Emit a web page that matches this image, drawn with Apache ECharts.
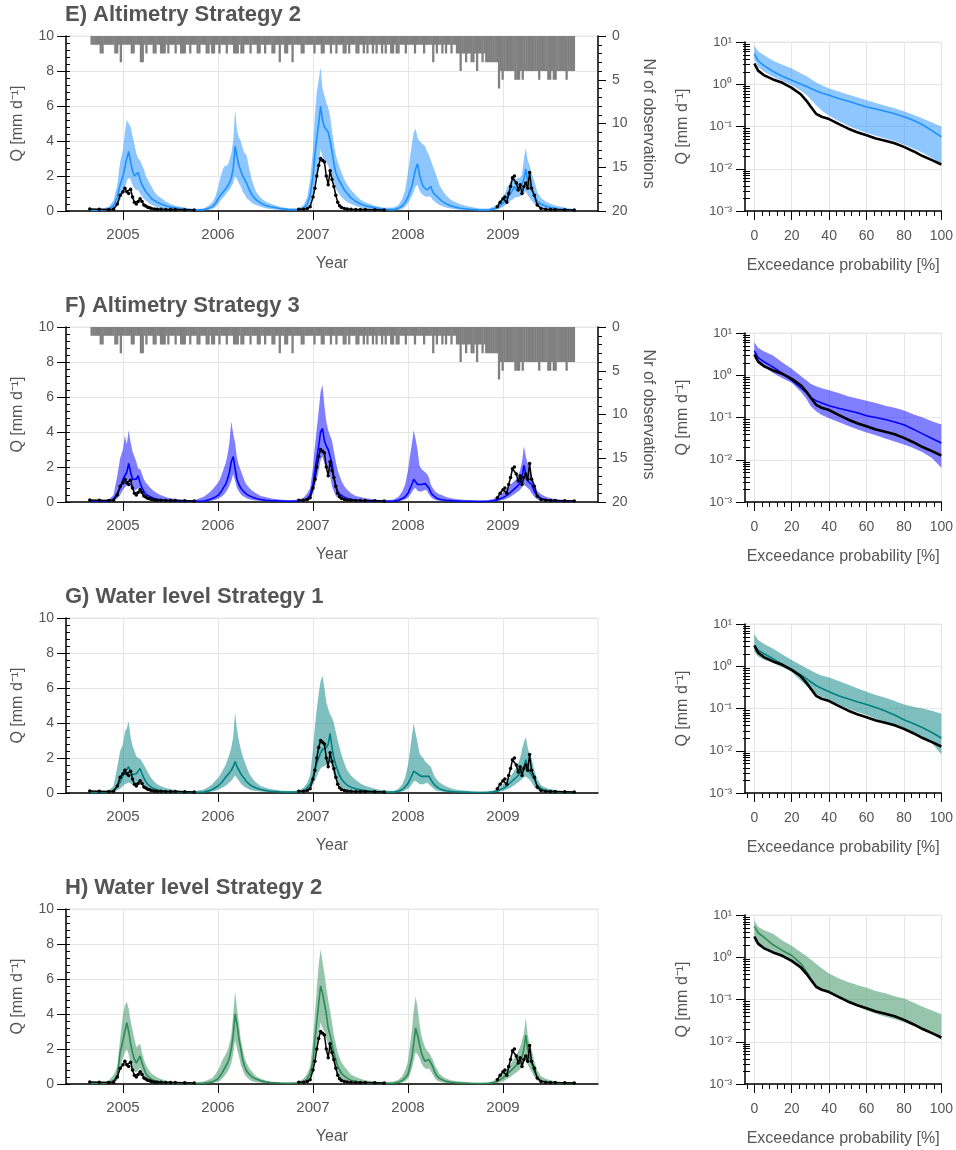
<!DOCTYPE html>
<html>
<head>
<meta charset="utf-8">
<script src="https://cdn.jsdelivr.net/npm/echarts@6/dist/echarts.min.js"></script>
<style>
  html, body { margin: 0; padding: 0; background: #fff; }
  #chart { width: 956px; height: 1150px; }
</style>
</head>
<body>
<div id="chart"></div>
<script>
// ---- time axis of the hydrographs (decimal years) ----
const t = [
  2004.65, 2004.75,
  2004.85, 2004.90, 2004.94, 2004.97, 2005.00, 2005.02, 2005.04, 2005.06, 2005.08, 2005.10, 2005.12, 2005.14, 2005.16, 2005.18, 2005.20, 2005.22, 2005.24, 2005.26, 2005.28, 2005.30, 2005.33, 2005.36, 2005.40, 2005.45, 2005.50, 2005.55, 2005.65, 2005.75,
  2005.85, 2005.90, 2005.94, 2005.97, 2006.00, 2006.02, 2006.04, 2006.06, 2006.08, 2006.10, 2006.12, 2006.14, 2006.16, 2006.18, 2006.20, 2006.22, 2006.24, 2006.26, 2006.28, 2006.30, 2006.33, 2006.36, 2006.40, 2006.45, 2006.50, 2006.55, 2006.65, 2006.75,
  2006.85, 2006.90, 2006.94, 2006.97, 2007.00, 2007.02, 2007.04, 2007.06, 2007.08, 2007.10, 2007.12, 2007.14, 2007.16, 2007.18, 2007.20, 2007.22, 2007.24, 2007.26, 2007.28, 2007.30, 2007.33, 2007.36, 2007.40, 2007.45, 2007.50, 2007.55, 2007.65, 2007.75,
  2007.85, 2007.90, 2007.94, 2007.97, 2008.00, 2008.02, 2008.04, 2008.06, 2008.08, 2008.10, 2008.12, 2008.14, 2008.16, 2008.18, 2008.20, 2008.22, 2008.24, 2008.26, 2008.28, 2008.30, 2008.33, 2008.36, 2008.40, 2008.45, 2008.50, 2008.55, 2008.65, 2008.75,
  2008.85, 2008.90, 2008.94, 2008.97, 2009.00, 2009.02, 2009.04, 2009.06, 2009.08, 2009.10, 2009.12, 2009.14, 2009.16, 2009.18, 2009.20, 2009.22, 2009.24, 2009.26, 2009.28, 2009.30, 2009.33, 2009.36, 2009.40, 2009.45, 2009.50, 2009.55, 2009.65, 2009.75
];

// ---- observed discharge [mm/d] (null = no gauge record) ----
const qObs = [
  0.12, 0.1,
  0.08, 0.1, 0.4, 0.9, 1.1, 1.3, 1.1, 1.0, 1.25, 0.8, 0.5, 0.4, 0.55, 0.7, 0.55, 0.35, 0.28, 0.22, 0.18, 0.15, 0.12, 0.1, 0.1, 0.09, 0.08, 0.08, 0.07, 0.06,
  null, null, null, null, null, null, null, null, null, null, null, null, null, null, null, null, null, null, null, null, null, null, null, null, null, null, null, null,
  0.1, 0.1, 0.15, 0.25, 0.8, 1.3, 2.0, 2.6, 3.0, 2.9, 2.8, 2.0, 1.5, 2.3, 1.8, 1.4, 0.9, 0.5, 0.3, 0.2, 0.15, 0.12, 0.1, 0.09, 0.08, 0.08, 0.07, 0.06,
  null, null, null, null, null, null, null, null, null, null, null, null, null, null, null, null, null, null, null, null, null, null, null, null, null, null, null, null,
  null, null, 0.25, 0.5, 0.7, 0.8, 0.5, 1.0, 1.4, 1.9, 2.0, 1.6, 1.2, 1.5, 1.0, 1.4, 1.6, 1.3, 2.2, 1.3, 0.9, 0.35, 0.15, 0.1, 0.09, 0.08, 0.07, 0.06
];

// ---- E) Altimetry Strategy 2: simulated discharge band and median ----
const eHigh = [
  0.08, 0.1,
  0.25, 0.6, 1.5, 2.8, 3.5, 4.5, 5.2, 5.0, 4.8, 4.3, 3.8, 3.3, 3.0, 2.9, 2.6, 2.4, 2.0, 1.8, 1.6, 1.4, 1.1, 0.9, 0.75, 0.55, 0.4, 0.3, 0.2, 0.12,
  0.15, 0.3, 0.5, 0.8, 1.3, 1.8, 2.2, 2.5, 2.6, 2.6, 2.9, 3.3, 4.0, 5.8, 4.6, 4.2, 4.0, 3.6, 3.3, 3.2, 2.4, 1.7, 1.1, 0.75, 0.55, 0.42, 0.25, 0.15,
  0.15, 0.35, 0.8, 1.8, 3.5, 5.5, 6.8, 7.5, 8.2, 7.0, 6.6, 6.2, 5.9, 5.4, 4.6, 3.8, 3.2, 2.8, 2.5, 2.2, 1.8, 1.5, 1.2, 0.9, 0.65, 0.5, 0.3, 0.18,
  0.2, 0.35, 0.7, 1.2, 2.2, 3.0, 3.8, 4.5, 4.7, 4.2, 4.0, 3.9, 3.8, 3.7, 3.4, 3.2, 2.9, 2.6, 2.3, 2.0, 1.5, 1.2, 0.9, 0.65, 0.5, 0.38, 0.25, 0.15,
  0.15, 0.25, 0.4, 0.6, 0.85, 1.0, 1.3, 1.5, 1.7, 1.8, 1.9, 1.8, 1.9, 1.9, 2.1, 3.0, 3.6, 2.9, 2.6, 2.2, 1.7, 1.1, 0.75, 0.55, 0.42, 0.32, 0.2, 0.1
];
const eMed = [
  0.04, 0.04,
  0.1, 0.3, 0.8, 1.5, 2.0, 2.5, 3.0, 3.4, 2.8, 2.3, 2.0, 2.0, 2.2, 1.8, 1.5, 1.3, 1.1, 1.0, 0.85, 0.7, 0.6, 0.5, 0.4, 0.3, 0.22, 0.18, 0.1, 0.06,
  0.08, 0.15, 0.25, 0.4, 0.7, 0.85, 1.0, 1.1, 1.25, 1.3, 1.6, 1.9, 2.4, 3.7, 3.1, 2.6, 2.3, 2.0, 1.8, 1.6, 1.2, 0.9, 0.65, 0.45, 0.32, 0.24, 0.14, 0.08,
  0.08, 0.15, 0.4, 0.9, 2.0, 3.2, 4.2, 5.0, 6.0, 5.2, 4.8, 4.7, 4.5, 4.0, 3.4, 2.7, 2.2, 1.9, 1.7, 1.5, 1.2, 1.0, 0.75, 0.55, 0.4, 0.3, 0.18, 0.1,
  0.08, 0.15, 0.3, 0.5, 0.8, 1.1, 1.4, 1.9, 2.4, 2.7, 2.1, 1.7, 1.4, 1.3, 1.2, 1.3, 1.4, 1.1, 0.95, 0.85, 0.7, 0.55, 0.42, 0.3, 0.22, 0.16, 0.1, 0.06,
  0.06, 0.12, 0.2, 0.3, 0.45, 0.6, 0.75, 0.85, 1.0, 1.1, 1.4, 1.2, 1.2, 1.3, 1.3, 1.8, 2.4, 1.7, 1.5, 1.2, 0.9, 0.55, 0.38, 0.28, 0.2, 0.15, 0.09, 0.05
];
const eLow = [
  0.02, 0.02,
  0.04, 0.1, 0.3, 0.6, 1.0, 1.3, 1.7, 1.9, 1.8, 1.5, 1.3, 1.2, 1.2, 1.0, 0.85, 0.7, 0.6, 0.5, 0.42, 0.36, 0.28, 0.22, 0.16, 0.12, 0.09, 0.07, 0.05, 0.03,
  0.03, 0.06, 0.12, 0.2, 0.4, 0.55, 0.7, 0.8, 0.95, 1.1, 1.2, 1.4, 1.6, 2.0, 1.8, 1.6, 1.4, 1.1, 0.95, 0.75, 0.6, 0.45, 0.35, 0.25, 0.16, 0.12, 0.06, 0.03,
  0.03, 0.06, 0.15, 0.4, 1.0, 1.6, 2.2, 2.8, 3.5, 3.1, 2.9, 2.8, 2.6, 2.3, 2.0, 1.6, 1.3, 1.1, 0.95, 0.8, 0.65, 0.5, 0.4, 0.28, 0.2, 0.15, 0.08, 0.04,
  0.03, 0.06, 0.12, 0.25, 0.45, 0.65, 0.85, 1.1, 1.4, 1.5, 1.2, 1.0, 0.9, 0.85, 0.8, 0.85, 0.8, 0.65, 0.55, 0.45, 0.35, 0.27, 0.2, 0.14, 0.1, 0.07, 0.04, 0.02,
  0.02, 0.05, 0.08, 0.15, 0.25, 0.3, 0.4, 0.5, 0.6, 0.65, 0.75, 0.8, 0.8, 0.85, 0.9, 1.0, 1.1, 0.9, 0.75, 0.6, 0.4, 0.25, 0.15, 0.1, 0.08, 0.06, 0.04, 0.02
];

// ---- F) Altimetry Strategy 3 ----
const fHigh = [
  0.08, 0.08,
  0.15, 0.4, 1.5, 2.5, 3.0, 3.8, 3.3, 4.1, 3.4, 2.9, 2.6, 2.3, 1.9, 1.9, 1.6, 1.3, 1.1, 1.0, 0.85, 0.75, 0.6, 0.5, 0.38, 0.28, 0.22, 0.18, 0.12, 0.1,
  0.3, 0.5, 0.7, 0.9, 1.1, 1.3, 1.6, 1.9, 2.2, 2.7, 3.4, 4.6, 3.9, 3.4, 2.5, 2.1, 1.8, 1.5, 1.2, 1.0, 0.8, 0.65, 0.5, 0.35, 0.28, 0.22, 0.15, 0.1,
  0.15, 0.25, 0.5, 0.8, 2.0, 3.2, 4.2, 5.2, 6.3, 6.7, 5.5, 4.6, 4.1, 3.8, 3.5, 2.9, 2.3, 1.8, 1.5, 1.2, 0.9, 0.7, 0.5, 0.35, 0.28, 0.22, 0.15, 0.1,
  0.15, 0.3, 0.6, 1.0, 1.8, 2.6, 3.3, 4.1, 3.6, 3.0, 2.1, 1.9, 1.8, 1.7, 1.6, 1.4, 1.0, 0.8, 0.65, 0.55, 0.45, 0.38, 0.28, 0.22, 0.17, 0.14, 0.1, 0.08,
  0.12, 0.18, 0.3, 0.4, 0.55, 0.65, 0.75, 0.85, 1.0, 1.1, 1.2, 1.3, 1.5, 1.8, 2.3, 3.2, 2.6, 2.2, 2.0, 1.6, 1.1, 0.65, 0.45, 0.3, 0.22, 0.17, 0.11, 0.07
];
const fMed = [
  0.04, 0.04,
  0.06, 0.15, 0.5, 0.8, 1.3, 1.5, 1.7, 2.2, 1.7, 1.3, 1.2, 1.3, 1.5, 1.1, 0.8, 0.6, 0.45, 0.38, 0.32, 0.27, 0.2, 0.16, 0.13, 0.1, 0.08, 0.07, 0.05, 0.04,
  0.06, 0.12, 0.2, 0.28, 0.38, 0.5, 0.65, 0.85, 1.0, 1.3, 1.7, 2.3, 2.6, 1.9, 1.3, 1.0, 0.8, 0.65, 0.55, 0.45, 0.35, 0.28, 0.2, 0.14, 0.1, 0.08, 0.06, 0.04,
  0.06, 0.1, 0.2, 0.4, 1.0, 1.8, 2.5, 3.2, 4.0, 4.2, 3.5, 3.2, 3.0, 3.0, 2.2, 1.4, 0.9, 0.6, 0.45, 0.35, 0.28, 0.2, 0.15, 0.11, 0.08, 0.06, 0.05, 0.04,
  0.05, 0.1, 0.2, 0.3, 0.5, 0.75, 1.0, 1.3, 1.2, 1.0, 0.95, 1.0, 1.0, 1.05, 1.1, 0.8, 0.55, 0.4, 0.3, 0.22, 0.16, 0.13, 0.1, 0.08, 0.06, 0.05, 0.04, 0.03,
  0.04, 0.07, 0.12, 0.18, 0.25, 0.3, 0.38, 0.45, 0.55, 0.65, 0.75, 0.85, 0.95, 1.1, 1.4, 2.1, 1.6, 1.2, 1.3, 1.0, 0.6, 0.35, 0.2, 0.13, 0.09, 0.07, 0.05, 0.04
];
const fLow = [
  0.02, 0.02,
  0.03, 0.06, 0.2, 0.4, 0.7, 0.85, 0.95, 1.0, 0.85, 0.7, 0.65, 0.7, 0.8, 0.6, 0.4, 0.3, 0.2, 0.16, 0.13, 0.11, 0.08, 0.06, 0.05, 0.04, 0.03, 0.03, 0.02, 0.02,
  0.03, 0.05, 0.08, 0.12, 0.18, 0.25, 0.32, 0.42, 0.55, 0.7, 0.95, 1.2, 1.6, 1.2, 0.8, 0.6, 0.45, 0.35, 0.28, 0.22, 0.16, 0.12, 0.09, 0.06, 0.05, 0.04, 0.03, 0.02,
  0.02, 0.04, 0.08, 0.15, 0.5, 0.9, 1.3, 1.8, 2.4, 2.6, 2.2, 2.0, 1.8, 1.5, 0.9, 0.6, 0.35, 0.25, 0.18, 0.14, 0.1, 0.08, 0.06, 0.05, 0.04, 0.03, 0.02, 0.02,
  0.02, 0.04, 0.08, 0.15, 0.25, 0.4, 0.55, 0.75, 0.8, 0.65, 0.6, 0.6, 0.65, 0.7, 0.65, 0.45, 0.3, 0.2, 0.14, 0.1, 0.07, 0.05, 0.04, 0.03, 0.03, 0.02, 0.02, 0.02,
  0.02, 0.03, 0.05, 0.08, 0.12, 0.15, 0.2, 0.25, 0.3, 0.38, 0.45, 0.55, 0.6, 0.7, 0.85, 1.0, 0.9, 0.8, 0.7, 0.5, 0.3, 0.15, 0.08, 0.05, 0.04, 0.03, 0.02, 0.02
];

// ---- G) Water level Strategy 1 ----
const gHigh = [
  0.08, 0.08,
  0.15, 0.4, 1.5, 2.4, 2.8, 3.5, 3.7, 4.1, 3.2, 2.7, 2.4, 2.1, 2.0, 1.95, 1.8, 1.6, 1.4, 1.2, 1.0, 0.85, 0.65, 0.5, 0.38, 0.28, 0.22, 0.18, 0.12, 0.1,
  0.2, 0.35, 0.5, 0.7, 0.85, 1.0, 1.2, 1.4, 1.6, 1.9, 2.2, 2.6, 3.2, 4.6, 3.6, 3.0, 2.5, 2.1, 1.8, 1.5, 1.1, 0.85, 0.6, 0.4, 0.3, 0.23, 0.15, 0.1,
  0.15, 0.3, 0.6, 1.0, 2.5, 3.8, 4.8, 5.7, 6.4, 6.7, 6.0, 5.2, 4.8, 4.5, 4.3, 4.0, 3.5, 3.0, 2.6, 2.2, 1.7, 1.3, 1.0, 0.75, 0.55, 0.42, 0.25, 0.15,
  0.12, 0.25, 0.5, 0.9, 1.6, 2.4, 3.2, 4.0, 3.4, 2.9, 2.3, 2.1, 2.0, 1.8, 1.7, 1.6, 1.5, 1.2, 0.95, 0.8, 0.62, 0.5, 0.38, 0.27, 0.2, 0.16, 0.11, 0.07,
  0.1, 0.15, 0.25, 0.35, 0.5, 0.6, 0.7, 0.8, 0.95, 1.1, 1.3, 1.45, 1.7, 2.0, 2.5, 2.9, 3.2, 2.6, 2.2, 2.0, 1.3, 0.8, 0.45, 0.3, 0.22, 0.17, 0.11, 0.07
];
const gMed = [
  0.04, 0.04,
  0.06, 0.15, 0.4, 0.6, 1.0, 1.2, 1.3, 1.5, 1.2, 1.05, 1.0, 1.1, 1.25, 1.4, 1.1, 0.85, 0.65, 0.5, 0.4, 0.32, 0.24, 0.18, 0.13, 0.1, 0.08, 0.07, 0.05, 0.04,
  0.06, 0.12, 0.2, 0.3, 0.4, 0.5, 0.6, 0.75, 0.9, 1.0, 1.15, 1.3, 1.5, 1.8, 1.5, 1.3, 1.1, 0.95, 0.8, 0.65, 0.5, 0.38, 0.28, 0.2, 0.14, 0.1, 0.07, 0.05,
  0.06, 0.1, 0.3, 0.5, 0.9, 1.3, 1.7, 2.0, 2.3, 2.5, 2.6, 2.6, 2.8, 3.4, 2.6, 2.0, 1.6, 1.3, 1.0, 0.8, 0.6, 0.45, 0.33, 0.24, 0.18, 0.14, 0.09, 0.06,
  0.05, 0.1, 0.2, 0.35, 0.55, 0.75, 1.0, 1.25, 1.35, 1.1, 1.0, 0.95, 0.9, 0.95, 1.0, 0.95, 0.85, 0.6, 0.45, 0.35, 0.25, 0.18, 0.13, 0.09, 0.07, 0.06, 0.04, 0.03,
  0.04, 0.07, 0.12, 0.18, 0.25, 0.32, 0.4, 0.5, 0.6, 0.7, 0.8, 0.9, 1.0, 1.15, 1.2, 1.5, 1.9, 1.5, 1.2, 1.2, 0.8, 0.45, 0.25, 0.14, 0.1, 0.08, 0.05, 0.04
];
const gLow = [
  0.02, 0.02,
  0.03, 0.06, 0.15, 0.25, 0.4, 0.5, 0.55, 0.6, 0.55, 0.5, 0.48, 0.55, 0.65, 0.7, 0.5, 0.35, 0.25, 0.2, 0.15, 0.12, 0.09, 0.07, 0.05, 0.04, 0.03, 0.03, 0.02, 0.02,
  0.03, 0.05, 0.08, 0.12, 0.18, 0.22, 0.28, 0.35, 0.42, 0.5, 0.6, 0.7, 0.85, 1.0, 0.85, 0.7, 0.55, 0.45, 0.35, 0.28, 0.2, 0.15, 0.11, 0.08, 0.06, 0.05, 0.03, 0.02,
  0.03, 0.05, 0.12, 0.25, 0.5, 0.7, 0.95, 1.2, 1.4, 1.5, 1.55, 1.6, 1.7, 1.8, 1.4, 1.0, 0.75, 0.55, 0.42, 0.32, 0.22, 0.16, 0.12, 0.08, 0.06, 0.05, 0.03, 0.02,
  0.02, 0.04, 0.08, 0.15, 0.25, 0.35, 0.5, 0.65, 0.7, 0.6, 0.5, 0.5, 0.5, 0.55, 0.6, 0.5, 0.4, 0.3, 0.2, 0.14, 0.1, 0.08, 0.06, 0.04, 0.03, 0.03, 0.02, 0.02,
  0.02, 0.03, 0.05, 0.08, 0.12, 0.16, 0.2, 0.25, 0.3, 0.38, 0.45, 0.55, 0.6, 0.7, 0.8, 0.9, 0.95, 0.85, 0.8, 0.6, 0.35, 0.18, 0.09, 0.06, 0.04, 0.03, 0.02, 0.02
];

// ---- H) Water level Strategy 2 ----
const hHigh = [
  0.08, 0.08,
  0.2, 0.5, 1.0, 2.6, 4.0, 4.5, 4.7, 4.3, 3.6, 3.1, 2.6, 2.1, 2.2, 2.3, 1.8, 1.4, 1.1, 0.9, 0.75, 0.6, 0.48, 0.38, 0.28, 0.2, 0.15, 0.12, 0.09, 0.07,
  0.15, 0.25, 0.35, 0.55, 0.8, 1.0, 1.3, 1.5, 1.7, 1.9, 2.3, 2.8, 4.0, 5.3, 4.3, 3.5, 2.5, 2.0, 1.5, 1.2, 0.9, 0.7, 0.45, 0.3, 0.2, 0.15, 0.1, 0.07,
  0.15, 0.3, 0.6, 1.0, 2.5, 4.0, 5.5, 6.8, 7.7, 7.0, 6.3, 5.5, 4.8, 4.2, 3.5, 2.8, 2.3, 1.8, 1.5, 1.25, 1.0, 0.8, 0.55, 0.4, 0.3, 0.22, 0.15, 0.1,
  0.15, 0.25, 0.45, 0.8, 1.3, 2.2, 3.0, 4.2, 5.0, 4.4, 3.5, 2.8, 2.4, 2.1, 1.9, 1.8, 1.6, 1.4, 1.1, 0.9, 0.6, 0.45, 0.32, 0.22, 0.17, 0.14, 0.09, 0.06,
  0.1, 0.18, 0.3, 0.45, 0.6, 0.75, 0.85, 1.0, 1.15, 1.3, 1.5, 1.65, 1.9, 2.1, 2.5, 2.9, 3.8, 2.8, 2.3, 2.0, 1.3, 0.8, 0.45, 0.3, 0.22, 0.16, 0.1, 0.07
];
const hMed = [
  0.04, 0.04,
  0.08, 0.2, 0.5, 1.8, 2.5, 3.0, 3.5, 3.0, 2.3, 1.8, 1.4, 1.2, 1.4, 1.6, 1.2, 0.9, 0.6, 0.45, 0.35, 0.27, 0.2, 0.15, 0.11, 0.08, 0.06, 0.05, 0.04, 0.03,
  0.05, 0.08, 0.12, 0.2, 0.3, 0.4, 0.6, 0.8, 1.0, 1.2, 1.5, 2.0, 2.8, 4.0, 3.4, 2.6, 2.0, 1.4, 1.0, 0.75, 0.55, 0.4, 0.28, 0.18, 0.12, 0.09, 0.06, 0.04,
  0.06, 0.12, 0.3, 0.6, 1.3, 2.5, 3.6, 4.6, 5.6, 5.2, 4.6, 4.0, 3.2, 2.8, 2.3, 1.8, 1.4, 1.0, 0.8, 0.6, 0.45, 0.33, 0.22, 0.15, 0.1, 0.08, 0.06, 0.04,
  0.05, 0.1, 0.2, 0.35, 0.55, 1.0, 1.5, 2.3, 3.2, 2.8, 2.3, 1.8, 1.5, 1.3, 1.3, 1.4, 1.2, 1.0, 0.7, 0.5, 0.32, 0.24, 0.15, 0.1, 0.07, 0.06, 0.04, 0.03,
  0.04, 0.08, 0.15, 0.25, 0.35, 0.45, 0.55, 0.65, 0.75, 0.85, 0.95, 1.05, 1.2, 1.35, 1.5, 2.0, 2.8, 2.0, 1.5, 1.2, 0.7, 0.4, 0.2, 0.12, 0.08, 0.06, 0.05, 0.04
];
const hLow = [
  0.02, 0.02,
  0.03, 0.08, 0.2, 0.9, 1.5, 1.8, 2.0, 1.7, 1.2, 0.9, 0.7, 0.65, 0.8, 0.9, 0.6, 0.4, 0.25, 0.18, 0.13, 0.1, 0.07, 0.05, 0.04, 0.03, 0.02, 0.02, 0.02, 0.02,
  0.02, 0.03, 0.05, 0.08, 0.12, 0.18, 0.28, 0.4, 0.55, 0.7, 0.9, 1.2, 1.7, 2.5, 2.0, 1.6, 1.1, 0.8, 0.55, 0.4, 0.25, 0.16, 0.1, 0.07, 0.05, 0.04, 0.03, 0.02,
  0.02, 0.05, 0.12, 0.3, 0.8, 1.5, 2.2, 2.9, 3.5, 3.2, 3.0, 2.6, 2.2, 1.8, 1.5, 1.1, 0.8, 0.55, 0.35, 0.25, 0.16, 0.11, 0.08, 0.06, 0.04, 0.03, 0.02, 0.02,
  0.02, 0.04, 0.08, 0.15, 0.3, 0.55, 0.85, 1.3, 1.8, 1.7, 1.5, 1.2, 1.0, 0.9, 0.85, 0.9, 0.75, 0.55, 0.35, 0.22, 0.14, 0.09, 0.06, 0.04, 0.03, 0.02, 0.02, 0.02,
  0.02, 0.03, 0.06, 0.1, 0.15, 0.2, 0.28, 0.35, 0.42, 0.5, 0.58, 0.66, 0.75, 0.85, 1.0, 1.2, 1.4, 1.1, 0.9, 0.7, 0.4, 0.2, 0.1, 0.06, 0.04, 0.03, 0.02, 0.02
];

// ---- altimetry observations per week (first week starts at obsStart) ----
const obsStart = 2004.66;
const obsStep = 1 / 52;
const nObs = [
  1, 1, 1, 1, 1, 2, 2, 1, 1, 1,  1, 1, 1, 2, 2, 1, 3, 1, 1, 1,
  1, 1, 2, 2, 1, 1, 1, 3, 3, 1,  2, 1, 1, 1, 2, 2, 1, 1, 2, 2,
  2, 1, 2, 1, 1, 1, 2, 1, 1, 2,  2, 2, 1, 1, 2, 1, 1, 1, 2, 2,
  1, 1, 1, 2, 2, 1, 2, 2, 1, 1,  2, 1, 1, 1, 2, 1, 1, 1, 2, 2,
  2, 1, 2, 2, 1, 1, 1, 2, 1, 1,  1, 2, 2, 1, 1, 2, 1, 1, 1, 2,
  2, 1, 1, 3, 1, 1, 2, 2, 1, 1,  3, 1, 1, 1, 1, 2, 2, 1, 1, 1,
  1, 1, 2, 1, 1, 1, 2, 2, 1, 1,  1, 2, 1, 1, 2, 1, 1, 1, 2, 2,
  1, 2, 1, 1, 1, 2, 2, 1, 1, 2,  1, 2, 1, 1, 2, 1, 2, 1, 1, 2,
  1, 2, 1, 1, 2, 2, 1, 2, 2, 1,  1, 1, 2, 1, 1, 1, 1, 2, 1, 1,
  1, 1, 2, 1, 1, 1, 1, 3, 1, 2,  1, 1, 2, 1, 2, 1, 1, 2, 1, 1,
  2, 2, 4, 2, 2, 3, 2, 2, 3, 3,  2, 4, 2, 2, 3, 2, 3, 3, 3, 3,
  3, 3, 3, 6, 4, 5, 4, 4, 4, 4,  4, 4, 5, 5, 5, 4, 5, 4, 4, 4,
  4, 4, 4, 4, 4, 5, 4, 4, 4, 4,  5, 5, 4, 5, 5, 4, 4, 4, 4, 4,
  5, 4, 4, 4, 4
];

// ---- flow duration curves: exceedance probability [%] vs Q [mm/d] ----
const pExc = [0, 2, 5, 10, 15, 20, 25, 28, 30, 33, 36, 40, 45, 50, 55, 60, 65, 70, 75, 80, 85, 90, 95, 100];
const fdcObs = [3.1, 2.1, 1.65, 1.3, 1.08, 0.82, 0.57, 0.4, 0.3, 0.2, 0.17, 0.15, 0.115, 0.09, 0.073, 0.062, 0.052, 0.046, 0.04, 0.033, 0.026, 0.02, 0.016, 0.0126];
const fdcEMed = [5.3, 3.6, 2.8, 2.0, 1.55, 1.24, 1.0, 0.88, 0.8, 0.7, 0.62, 0.55, 0.46, 0.4, 0.34, 0.29, 0.26, 0.23, 0.2, 0.17, 0.14, 0.11, 0.08, 0.057];
const fdcEHigh = [8.3, 6.0, 4.9, 3.6, 2.9, 2.35, 1.8, 1.55, 1.35, 1.1, 0.95, 0.79, 0.67, 0.57, 0.49, 0.42, 0.36, 0.31, 0.27, 0.23, 0.19, 0.155, 0.125, 0.1];
const fdcELow = [3.8, 2.6, 2.0, 1.5, 1.2, 0.95, 0.7, 0.55, 0.45, 0.32, 0.24, 0.18, 0.135, 0.105, 0.085, 0.07, 0.06, 0.052, 0.045, 0.037, 0.03, 0.024, 0.018, 0.013];
const fdcFMed = [3.8, 2.6, 2.1, 1.56, 1.1, 0.76, 0.5, 0.38, 0.3, 0.25, 0.22, 0.19, 0.165, 0.147, 0.13, 0.11, 0.1, 0.09, 0.078, 0.067, 0.053, 0.041, 0.032, 0.025];
const fdcFHigh = [6.0, 4.5, 3.7, 2.95, 2.0, 1.43, 0.95, 0.75, 0.63, 0.55, 0.49, 0.44, 0.38, 0.32, 0.28, 0.25, 0.22, 0.19, 0.17, 0.147, 0.12, 0.1, 0.082, 0.068];
const fdcFLow = [2.8, 2.0, 1.6, 1.13, 0.85, 0.66, 0.4, 0.27, 0.19, 0.14, 0.115, 0.096, 0.078, 0.064, 0.053, 0.044, 0.038, 0.032, 0.027, 0.023, 0.019, 0.015, 0.011, 0.0065];
const fdcGMed = [3.1, 2.4, 2.0, 1.5, 1.1, 0.83, 0.62, 0.5, 0.43, 0.35, 0.3, 0.25, 0.2, 0.17, 0.145, 0.125, 0.105, 0.087, 0.07, 0.054, 0.044, 0.035, 0.027, 0.02];
const fdcGHigh = [5.8, 4.2, 3.4, 2.6, 1.9, 1.4, 1.05, 0.9, 0.8, 0.68, 0.6, 0.54, 0.45, 0.37, 0.3, 0.25, 0.21, 0.18, 0.15, 0.125, 0.11, 0.1, 0.088, 0.075];
const fdcGLow = [2.2, 1.7, 1.45, 1.2, 0.95, 0.73, 0.45, 0.33, 0.28, 0.22, 0.19, 0.16, 0.125, 0.1, 0.083, 0.07, 0.057, 0.045, 0.038, 0.031, 0.025, 0.02, 0.015, 0.0083];
const fdcHMed = [5.4, 3.8, 3.0, 1.97, 1.45, 1.1, 0.7, 0.45, 0.32, 0.21, 0.175, 0.152, 0.116, 0.09, 0.073, 0.062, 0.052, 0.046, 0.04, 0.033, 0.026, 0.02, 0.016, 0.0126];
const fdcHHigh = [7.4, 5.3, 4.4, 3.6, 2.5, 1.87, 1.3, 1.05, 0.9, 0.7, 0.55, 0.41, 0.32, 0.26, 0.22, 0.19, 0.16, 0.14, 0.12, 0.105, 0.085, 0.067, 0.055, 0.045];
const fdcHLow = [2.5, 1.9, 1.6, 1.3, 1.0, 0.76, 0.5, 0.36, 0.28, 0.2, 0.17, 0.14, 0.11, 0.087, 0.07, 0.055, 0.046, 0.039, 0.034, 0.029, 0.024, 0.02, 0.016, 0.011];

// ---- tick positions and labels ----
const yearTicks = [2005, 2006, 2007, 2008, 2009];
const probTicks = [0, 20, 40, 60, 80, 100];
const probMinor = [-4, 4, 8, 12, 16, 24, 28, 32, 36, 44, 48, 52, 56, 64, 68, 72, 76, 84, 88, 92, 96];
const logMinor = [
  0.002, 0.003, 0.004, 0.005, 0.006, 0.007, 0.008, 0.009,
  0.02, 0.03, 0.04, 0.05, 0.06, 0.07, 0.08, 0.09,
  0.2, 0.3, 0.4, 0.5, 0.6, 0.7, 0.8, 0.9,
  2, 3, 4, 5, 6, 7, 8, 9
];
const decadeLabels = ['10\u207b\u00b3', '10\u207b\u00b2', '10\u207b\u00b9', '10\u2070', '10\u00b9'];
const qName = 'Q [mm d\u207b\u00b9]';

const panels = [
  { title: 'E) Altimetry Strategy 2', line: '#1e90ff', fill: 'rgba(30,144,255,0.5)',
    lo: eLow, med: eMed, hi: eHigh, dLo: fdcELow, dMed: fdcEMed, dHi: fdcEHigh, counts: true },
  { title: 'F) Altimetry Strategy 3', line: '#0000ff', fill: 'rgba(0,0,255,0.5)',
    lo: fLow, med: fMed, hi: fHigh, dLo: fdcFLow, dMed: fdcFMed, dHi: fdcFHigh, counts: true },
  { title: 'G) Water level Strategy 1', line: '#008080', fill: 'rgba(0,128,128,0.5)',
    lo: gLow, med: gMed, hi: gHigh, dLo: fdcGLow, dMed: fdcGMed, dHi: fdcGHigh, counts: false },
  { title: 'H) Water level Strategy 2', line: '#2e8b57', fill: 'rgba(46,139,87,0.5)',
    lo: hLow, med: hMed, hi: hHigh, dLo: fdcHLow, dMed: fdcHMed, dHi: fdcHHigh, counts: false }
];

// ---- layout ----
const FONT = '"Liberation Sans", Arial, sans-serif';
const INK = '#555';
const RULE = '#e6e6e6';
const PANEL_TOP = [36, 327, 618, 909];
const LEFT_X = 66, LEFT_W = 532, LEFT_H = 175;
const RIGHT_X = 745, RIGHT_W = 197, RIGHT_H = 169;
const PROB_MIN = -5;

const black = { color: '#000', width: 1 };

function pairs(xs, ys) {
  return xs.map((x, i) => [x, ys[i] == null ? '-' : ys[i]]);
}

// shaded uncertainty band between two curves, projected through the axes;
// optionally also draws the logarithmic minor ticks (at tickValues) across the left edge of the plot
function band(xs, lo, hi, fill, xi, yi, tickValues) {
  return {
    type: 'custom', xAxisIndex: xi, yAxisIndex: yi, silent: true, clip: false, z: 1,
    data: [[xs[0], hi[0]]],
    renderItem: function (params, api) {
      const pts = [];
      for (let i = 0; i < xs.length; i++) pts.push(api.coord([xs[i], hi[i]]));
      for (let i = xs.length - 1; i >= 0; i--) pts.push(api.coord([xs[i], lo[i]]));
      const children = [{ type: 'polygon', shape: { points: pts }, style: { fill: fill } }];
      if (tickValues) {
        const left = api.coord([PROB_MIN, tickValues[0]])[0];
        tickValues.forEach(function (v) {
          const y = Math.round(api.coord([PROB_MIN, v])[1]) + 0.5;
          children.push({
            type: 'rect', z2: 10,
            shape: { x: left - 2, y: y - 0.5, width: 7, height: 1 },
            style: { fill: '#000' }
          });
        });
      }
      return { type: 'group', children: children };
    }
  };
}

const grid = [], xAxis = [], yAxis = [], series = [], title = [];

panels.forEach(function (p, i) {
  const top = PANEL_TOP[i];
  title.push({
    text: p.title, left: LEFT_X - 1, top: top - 32, padding: 0,
    textStyle: { fontSize: 22, fontWeight: 'bold', color: INK, fontFamily: FONT }
  });

  const gL = grid.length;
  grid.push({ left: LEFT_X, top: top, width: LEFT_W, height: LEFT_H, show: true, borderColor: RULE, borderWidth: 1 });
  const gR = grid.length;
  grid.push({ left: RIGHT_X, top: top + 6, width: RIGHT_W, height: RIGHT_H, show: true, borderColor: RULE, borderWidth: 1 });

  // hydrograph x axis (years)
  const xL = xAxis.length;
  xAxis.push({
    gridIndex: gL, type: 'value', min: 2004.4, max: 2010, position: 'bottom',
    axisLine: { onZero: false, lineStyle: { color: '#000', width: 1.5 } },
    axisTick: { customValues: yearTicks, length: 9, lineStyle: black },
    axisLabel: { customValues: yearTicks, fontSize: 15, color: INK, margin: 16, formatter: v => String(Math.round(v)) },
    splitLine: { show: true, lineStyle: { color: RULE } },
    name: 'Year', nameLocation: 'middle', nameGap: 45, nameTextStyle: { fontSize: 16, color: INK }
  });
  // duration-curve x axis (exceedance probability)
  const xR = xAxis.length;
  xAxis.push({
    gridIndex: gR, type: 'value', min: PROB_MIN, max: 100, position: 'bottom',
    axisLine: { onZero: false, lineStyle: { color: '#000', width: 1.5 } },
    axisTick: { customValues: probTicks, length: 9, lineStyle: black },
    axisLabel: { customValues: probTicks, fontSize: 14, color: INK, margin: 18 },
    splitLine: { show: true, lineStyle: { color: RULE } },
    name: 'Exceedance probability [%]', nameLocation: 'middle', nameGap: 47,
    nameTextStyle: { fontSize: 16, color: INK }
  });
  xAxis.push({
    gridIndex: gR, type: 'value', min: PROB_MIN, max: 100, position: 'bottom',
    axisLine: { show: false, onZero: false },
    axisTick: { customValues: probMinor, length: 5, lineStyle: black },
    axisLabel: { show: false }, splitLine: { show: false }
  });

  // discharge axis
  const yL = yAxis.length;
  yAxis.push({
    gridIndex: gL, type: 'value', min: 0, max: 10, interval: 2, position: 'left',
    axisLine: { show: true, onZero: false, lineStyle: { color: '#000', width: 1.5 } },
    axisTick: { show: true, length: 9, lineStyle: black },
    axisLabel: { fontSize: 14, color: INK, margin: 12 },
    splitLine: { show: true, lineStyle: { color: RULE } },
    name: qName, nameLocation: 'middle', nameGap: 40, nameRotate: 90,
    nameTextStyle: { fontSize: 16, color: INK }
  });
  yAxis.push({
    gridIndex: gL, type: 'value', min: 0, max: 10, interval: 2, position: 'left',
    axisLine: { show: false, onZero: false },
    axisTick: { show: true, inside: true, length: 4, lineStyle: black },
    minorTick: { show: true, splitNumber: 5, length: 4, lineStyle: black },
    axisLabel: { show: false }, splitLine: { show: false }
  });
  let yB = -1;
  if (p.counts) {
    yB = yAxis.length;
    yAxis.push({
      gridIndex: gL, type: 'value', min: 0, max: 20, interval: 5, inverse: true, position: 'right',
      axisLine: { show: true, onZero: false, lineStyle: { color: '#000', width: 1.5 } },
      axisTick: { show: true, length: 8, lineStyle: black },
      minorTick: { show: true, splitNumber: 5, length: 4, lineStyle: black },
      axisLabel: { fontSize: 14, color: INK, margin: 14 },
      splitLine: { show: false },
      name: 'Nr of observations', nameLocation: 'middle', nameGap: 42, nameRotate: -90,
      nameTextStyle: { fontSize: 16, color: INK }
    });
  }
  // log discharge axis of the duration curve
  const yR = yAxis.length;
  yAxis.push({
    gridIndex: gR, type: 'log', logBase: 10, min: 0.001, max: 10, position: 'left',
    axisLine: { show: true, onZero: false, lineStyle: { color: '#000', width: 1.5 } },
    axisTick: { show: true, length: 9, lineStyle: black },
    axisLabel: { fontSize: 13, color: INK, margin: 13, formatter: v => decadeLabels[Math.round(Math.log10(v)) + 3] },
    splitLine: { show: true, lineStyle: { color: RULE } },
    name: qName, nameLocation: 'middle', nameGap: 54, nameRotate: 90,
    nameTextStyle: { fontSize: 16, color: INK }
  });

  // hydrograph
  series.push(band(t, p.lo, p.hi, p.fill, xL, yL, null));
  series.push({
    type: 'line', xAxisIndex: xL, yAxisIndex: yL, data: pairs(t, p.med), showSymbol: false,
    lineStyle: { color: p.line, width: 1.6 }, z: 3, silent: true
  });
  series.push({
    type: 'line', xAxisIndex: xL, yAxisIndex: yL, data: pairs(t, qObs), connectNulls: false,
    symbol: 'circle', symbolSize: 3.5, showSymbol: true,
    itemStyle: { color: '#000' }, lineStyle: { color: '#000', width: 1.5 }, z: 4, silent: true
  });
  if (p.counts) {
    series.push({
      type: 'bar', xAxisIndex: xL, yAxisIndex: yB, barWidth: 2.3, silent: true,
      data: nObs.map((n, k) => [obsStart + (k + 0.5) * obsStep, n]),
      itemStyle: { color: '#808080' }, z: 2
    });
  }

  // flow duration curve
  series.push(band(pExc, p.dLo, p.dHi, p.fill, xR, yR, logMinor));
  series.push({
    type: 'line', xAxisIndex: xR, yAxisIndex: yR, data: pairs(pExc, p.dMed), showSymbol: false,
    lineStyle: { color: p.line, width: 1.6 }, z: 3, silent: true
  });
  series.push({
    type: 'line', xAxisIndex: xR, yAxisIndex: yR, data: pairs(pExc, fdcObs), showSymbol: false,
    lineStyle: { color: '#000', width: 2.6 }, z: 4, silent: true
  });
});

const chart = echarts.init(document.getElementById('chart'), null, { renderer: 'canvas' });
chart.setOption({
  animation: false,
  backgroundColor: '#fff',
  textStyle: { fontFamily: FONT },
  title: title,
  grid: grid,
  xAxis: xAxis,
  yAxis: yAxis,
  series: series
});
</script>
</body>
</html>
